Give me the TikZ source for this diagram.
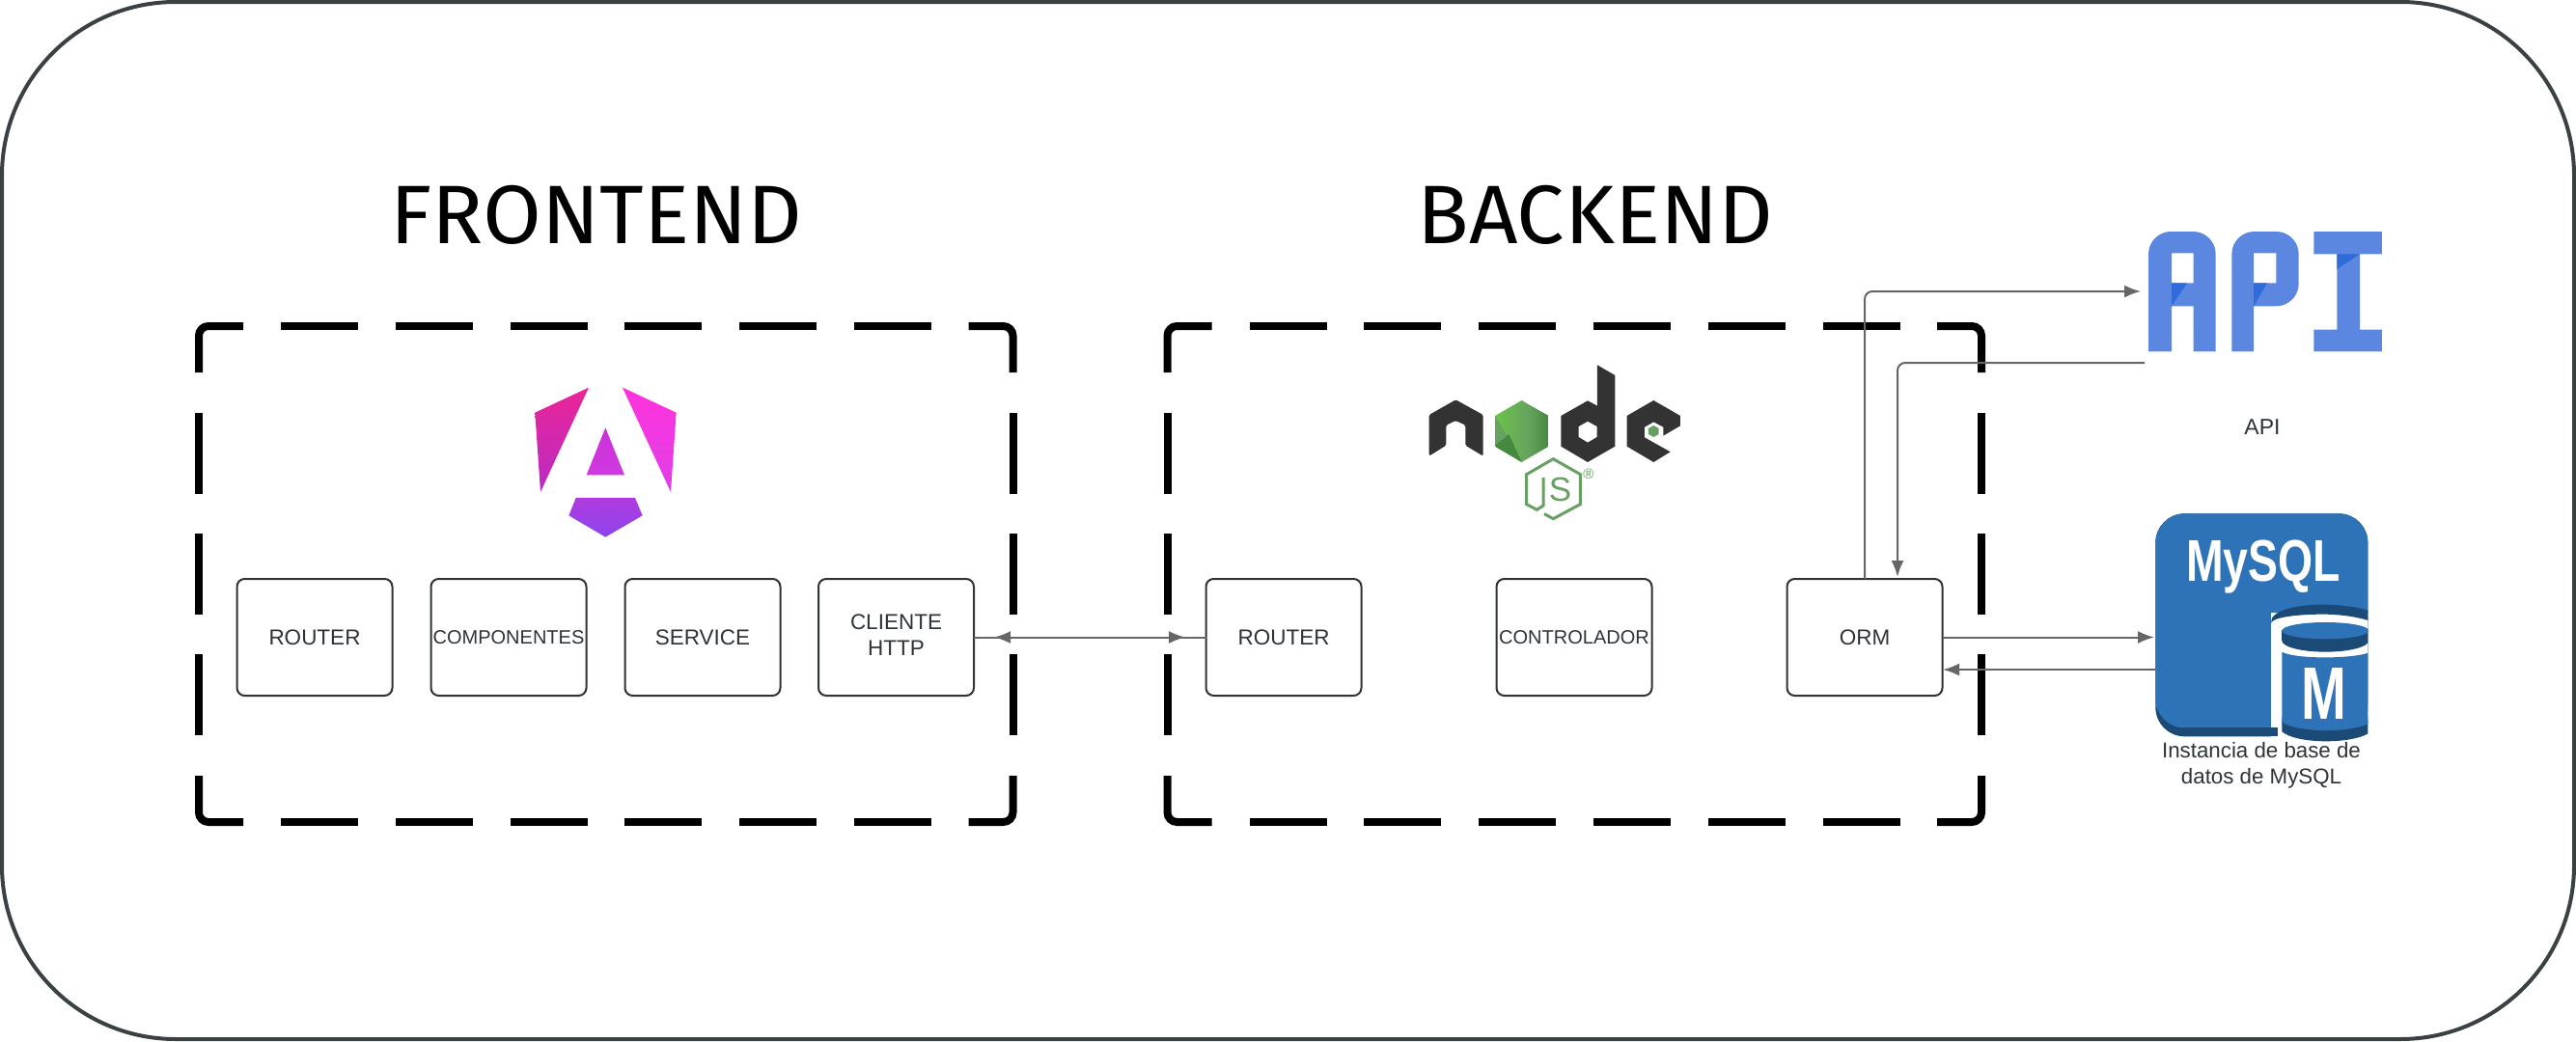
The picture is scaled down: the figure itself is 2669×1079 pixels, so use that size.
\documentclass[tikz,border=0pt]{standalone}
\usepackage{fontspec}
\setmainfont{Liberation Sans}
\newfontfamily\titlefont{Fira Sans}
\usetikzlibrary{arrows.meta}

\definecolor{boxtext}{HTML}{2E3338}
\definecolor{outerline}{HTML}{3A4145}
\definecolor{linkgrey}{HTML}{666666}
\definecolor{apiblue}{HTML}{5C87E0}
\definecolor{apidark}{HTML}{2F6BDC}
\definecolor{sqlblue}{HTML}{2E73B8}
\definecolor{sqldark}{HTML}{1A4A75}
\definecolor{nodedark}{HTML}{333333}
\definecolor{nodegreen}{HTML}{689F63}

\begin{document}
\begin{tikzpicture}[x=1pt,y=-1pt]
    \tikzset{
      compbox/.style={
        rectangle,
        rounded corners=8pt,
        minimum width=161pt,
        minimum height=121pt,
        inner sep=0pt,
        outer sep=0pt,
        line width=2pt,
        align=center,
        text=boxtext,
        font=\fontsize{22.5}{27}\selectfont,
        draw=boxtext
      },
      titlelabel/.style={
        font=\titlefont\fontsize{86}{90}\selectfont,
        text=black,
        xscale=1.025,
        inner sep=0pt
      },
      caption/.style={
        font=\fontsize{23}{27}\selectfont,
        text=boxtext,
        align=center,
        inner sep=0pt
      },
      frameline/.style={line width=8pt,black},
      framedash/.style={frameline,dash pattern=on 80pt off 38.8pt},
      framedashv/.style={frameline,dash pattern=on 83.5pt off 41.5pt},
      link/.style={line width=2pt,draw=linkgrey},
      tip/.style={link,-{Latex[length=17pt,width=13pt,fill=linkgrey]}}
    }
    \useasboundingbox (0,0) rectangle (2669,1079);

    %Outer frame
    \draw[outerline,line width=4pt,rounded corners=180pt] (2,2) rectangle (2667,1077);

    %Titles
    \node[titlelabel] at (618,223) (fronttitle) {FRONTEND};
    \node[titlelabel] at (1653,223) (backtitle) {BACKEND};

    %Dashed frames
    \foreach \fx in {0,1003.5} {
      \begin{scope}[xshift=\fx pt]
        \draw[frameline,rounded corners=10pt] (206,386) |- (252,338);
        \draw[frameline,rounded corners=10pt] (1003.5,338) -| (1049.5,386);
        \draw[frameline,rounded corners=10pt] (206,804) |- (252,852);
        \draw[frameline,rounded corners=10pt] (1003.5,852) -| (1049.5,804);
        \draw[framedash] (291,338) -- (965,338);
        \draw[framedash] (291,852) -- (965,852);
        \draw[framedashv] (206,428) -- (206,762);
        \draw[framedashv] (1049.5,428) -- (1049.5,762);
      \end{scope}
    }

    %Frontend boxes
    \node[compbox] at (326,660.5) (frouter) {ROUTER};
    \node[compbox,font=\fontsize{20}{27}\selectfont] at (527,660.5) (fcomp) {COMPONENTES};
    \node[compbox] at (728,660.5) (fservice) {SERVICE};
    \node[compbox] at (928.5,660.5) (fclient) {\raisebox{4.4pt}{\begin{tabular}{@{}c@{}}CLIENTE\\HTTP\end{tabular}}};

    %Backend boxes
    \node[compbox] at (1330,660.5) (brouter) {ROUTER};
    \node[compbox,font=\fontsize{20}{27}\selectfont] at (1631,660.5) (bcontrol) {CONTROLADOR};
    \node[compbox] at (1932,660.5) (orm) {ORM};

    %Connector ends
    \coordinate (fronttip) at (1030,660.5);
    \coordinate (backtip) at (1228,660.5);
    \coordinate (apiin) at (2218,302);
    \coordinate (apiout) at (2222,376);
    \coordinate (ormtop) at (1966,598);
    \coordinate (sqlin) at (2232,660.5);
    \coordinate (sqlout) at (2233,694);
    \coordinate (ormback) at (2013,694);

    %Connectors
    \draw[link] (fclient) -- (brouter);
    \draw[tip] (backtip) -- (fronttip);
    \draw[tip] (fronttip) -- (backtip);
    \draw[tip,rounded corners=8pt] (orm.north) |- (apiin);
    \draw[tip,rounded corners=8pt] (apiout) -| (ormtop);
    \draw[tip] (orm.east) -- (sqlin);
    \draw[tip] (sqlout) -- (ormback);

    %Angular logo
    \begin{scope}[shift={(500,350)},x=0.3333pt,y=-0.3333pt]
      \definecolor{ngtl}{HTML}{EB2596}
      \definecolor{ngbl}{HTML}{B92BC6}
      \definecolor{ngtr}{HTML}{FF33DC}
      \definecolor{ngbr}{HTML}{DF3FE8}
      \definecolor{ngmt}{HTML}{CC30D8}
      \definecolor{ngmb}{HTML}{D03AE0}
      \definecolor{ngst}{HTML}{B03CE0}
      \definecolor{ngsb}{HTML}{8C44EC}
      \shade[top color=ngtl,bottom color=ngbl] (330,155) -- (163,233) -- (180,480) -- cycle;
      \shade[top color=ngtr,bottom color=ngbr] (435,155) -- (602,233) -- (585,480) -- cycle;
      \shade[top color=ngmt,bottom color=ngmb] (382,280) -- (441,427) -- (323,427) -- cycle;
      \shade[top color=ngst,bottom color=ngsb] (290,498) -- (474,498) -- (497,553) -- (382,620) -- (268,553) -- cycle;
    \end{scope}

    %Node logo
    \begin{scope}[shift={(1430,350)},x=0.3333pt,y=-0.3333pt]
      %Letter n
      \fill[nodedark,rounded corners=1.5pt] (152,240) -- (235,193) -- (320,240) -- (320,368) -- (265,335) -- (265,272) -- (235,258) -- (205,272) -- (205,335) -- (152,368) -- cycle;
      %Letter o
      \definecolor{hexleft}{HTML}{6CC24A}
      \definecolor{hexmid}{HTML}{66A35E}
      \definecolor{hexright}{HTML}{44893F}
      \shade[left color=hexleft,right color=hexmid] (440,195) -- (460,207) -- (460,375) -- (440,387) -- (357,338) -- (357,243) -- cycle;
      \shade[left color=hexmid,right color=hexright] (460,207) -- (524,243) -- (524,338) -- (460,375) -- cycle;
      \fill[hexright] (357,338) -- (362,330) -- (400,300) -- (440,387) -- cycle;
      \fill[hexmid] (357,243) -- (395,305) -- (362,330) -- (357,338) -- cycle;
      %Letter d
      \fill[nodedark,even odd rule] (675,85) -- (730,117) -- (730,338) -- (645,387) -- (562,338) -- (562,243) -- (645,196) -- (675,212) -- cycle
        (645,260) -- (674,276) -- (674,309) -- (645,326) -- (617,309) -- (617,276) -- cycle;
      %Letter e
      \fill[nodedark] (767,243) -- (850,195) -- (933,243) -- (933,274) -- (880,305) -- (880,278) -- (850,262) -- (822,278) -- (822,310) -- (850,326) -- (902,355) -- (850,387) -- (767,338) -- cycle;
      \fill[nodegreen] (850,273) -- (866,282) -- (866,300) -- (850,309) -- (834,300) -- (834,282) -- cycle;
      %JS hexagon
      \draw[nodegreen,line width=3pt] (510,548) -- (538,563) -- (622,518) -- (622,425) -- (538,377) -- (455,425) -- (455,518) -- (487,535) -- (507,522) -- (507,435);
      \node[text=nodegreen,inner sep=0pt,font=\fontsize{35}{35}\selectfont] at (560,472) (jsletter) {S};
      \node[text=nodegreen,inner sep=0pt,font=\fontsize{15}{15}\selectfont] at (648,425) (jsmark) {®};
    \end{scope}

    %API logo
    \begin{scope}[shift={(2180,210)},x=0.3333pt,y=-0.3333pt]
      \fill[apiblue,even odd rule] (138,463) -- (138,160) arc[start angle=180,end angle=90,x radius=70,y radius=-70] -- (277,90) arc[start angle=90,end angle=0,x radius=70,y radius=-70] -- (347,463) -- (278,463) -- (278,322) -- (210,322) -- (210,463) -- cycle
        (210,157) rectangle (278,250);
      \fill[apidark] (210,250) -- (258,250) -- (210,322) -- cycle;
      \fill[apiblue,even odd rule] (397,463) -- (397,160) arc[start angle=180,end angle=90,x radius=70,y radius=-70] -- (535,90) arc[start angle=90,end angle=0,x radius=70,y radius=-70] -- (605,252) arc[start angle=0,end angle=-90,x radius=70,y radius=-70] -- (465,322) -- (465,463) -- cycle
        (465,157) rectangle (535,250);
      \fill[apidark] (465,250) -- (507,250) -- (465,322) -- cycle;
      \fill[apiblue] (652,90) -- (864,90) -- (864,160) -- (795,160) -- (795,395) -- (864,395) -- (864,463) -- (652,463) -- (652,395) -- (724,395) -- (724,160) -- (652,160) -- cycle;
      \fill[apidark] (724,160) -- (795,160) -- (724,207) -- cycle;
    \end{scope}
    \node[caption] at (2344,443) (apilabel) {API};

    %MySQL logo
    \begin{scope}[shift={(2180,510)},x=0.3333pt,y=-0.3333pt]
      \fill[sqldark,rounded corners=30pt] (160,67) rectangle (820,760);
      \fill[sqlblue,rounded corners=30pt] (160,67) rectangle (820,733);
      %Cylinder, cut off at the right edge
      \begin{scope}
        \clip (160,60) rectangle (820,790);
        \fill[white] (520,375) rectangle (830,790);
        \fill[sqldark] (520,400) .. controls (520,375) and (580,350) .. (680,350) .. controls (750,350) and (830,365) .. (830,375) -- (830,402) .. controls (780,385) and (720,380) .. (680,380) .. controls (600,380) and (520,390) .. (520,408) -- cycle;
        \fill[sqldark] (553,430) rectangle (830,462);
        \fill[sqldark] (553,462) arc[start angle=180,end angle=360,x radius=135,y radius=-35];
        \fill[sqlblue] (688,431) ellipse[x radius=135,y radius=26];
        \fill[sqlblue] (553,497) .. controls (590,520) and (780,520) .. (830,497) -- (830,720) -- (553,720) -- cycle;
        \fill[sqldark] (553,715) -- (830,715) -- (830,745) .. controls (780,785) and (600,785) .. (553,745) -- cycle;
        \fill[sqlblue] (553,700) -- (830,700) -- (830,715) .. controls (780,750) and (600,750) .. (553,715) -- cycle;
      \end{scope}
      \fill[sqldark] (250,733) rectangle (540,760);
      \node[text=white,inner sep=0pt,xscale=0.76,font=\bfseries\fontsize{61}{61}\selectfont] at (495,232) (sqlname) {MySQL};
      \node[text=white,inner sep=0pt,xscale=0.73,font=\bfseries\fontsize{77}{77}\selectfont] at (685,628) (sqlletter) {M};
    \end{scope}
    \node[caption,font=\fontsize{22.3}{27}\selectfont] at (2343,793) (sqllabel) {Instancia de base de\\datos de MySQL};
  \end{tikzpicture}
\end{document}
